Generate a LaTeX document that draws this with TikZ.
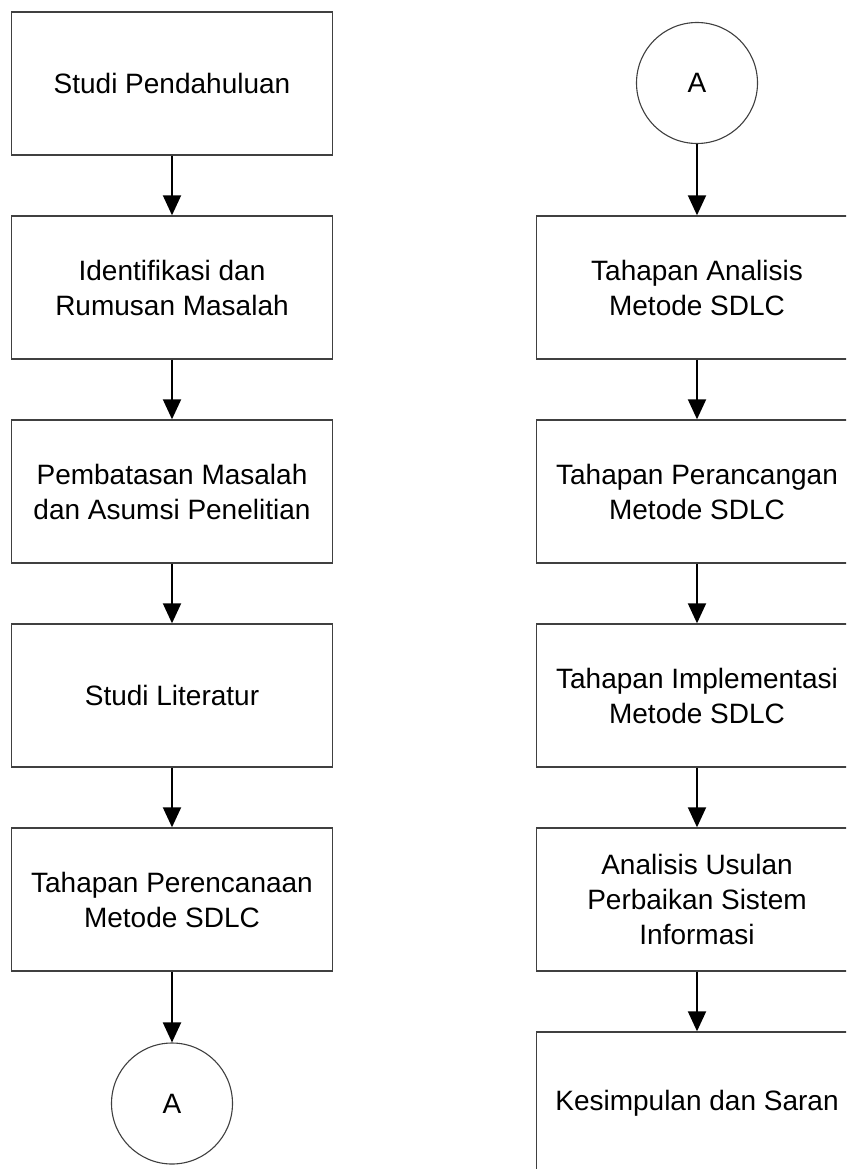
\documentclass[tikz,border=0pt]{standalone}
\usepackage{fontspec}
\setmainfont{Liberation Sans}
\usetikzlibrary{positioning, shapes, arrows.meta, calc}
\definecolor{boxgray}{gray}{0.25}
\tikzstyle{process}=[
  rectangle,
  minimum width=321pt,
  minimum height=143pt,
  inner sep=0pt,
  draw=boxgray,
  line width=1.4pt,
  fill=white,
  align=center,
  font={\fontsize{28}{35}\selectfont}
]
\tikzstyle{offpage}=[
  circle,
  minimum size=121pt,
  inner sep=0pt,
  draw=boxgray,
  line width=1.1pt,
  fill=white,
  font={\fontsize{28}{35}\selectfont}
]
\tikzstyle{flow}=[
  -{Triangle[length=20pt, width=18pt]},
  line width=2pt,
  black
]

\begin{document}
\begin{tikzpicture}

\newcommand\XL{172pt}
\newcommand\XR{697pt}
\newcommand\Y{-204pt}
\newcommand\TOP{-83.5pt}

\useasboundingbox (0pt, 0pt) rectangle (846pt, -1169pt); %% page
\clip (0pt, 0pt) rectangle (846pt, -1169pt);

%% left column
\node[process] (pendahuluan) at (\XL, \TOP) {Studi Pendahuluan};
\node[process] (identifikasi) at (\XL, \TOP + 1*\Y) {Identifikasi dan\\Rumusan Masalah};
\node[process] (pembatasan) at (\XL, \TOP + 2*\Y) {Pembatasan Masalah\\dan Asumsi Penelitian};
\node[process] (literatur) at (\XL, \TOP + 3*\Y) {Studi Literatur};
\node[process] (perencanaan) at (\XL, \TOP + 4*\Y) {Tahapan Perencanaan\\Metode SDLC};
\node[offpage] (keA) at (\XL, \TOP + 5*\Y) {A};

\draw[flow] (pendahuluan) -- (identifikasi);
\draw[flow] (identifikasi) -- (pembatasan);
\draw[flow] (pembatasan) -- (literatur);
\draw[flow] (literatur) -- (perencanaan);
\draw[flow] (perencanaan) -- (keA);

%% right column
\node[offpage] (dariA) at (\XR, -83pt) {A};
\node[process] (analisis) at (\XR, \TOP + 1*\Y) {Tahapan Analisis\\Metode SDLC};
\node[process] (perancangan) at (\XR, \TOP + 2*\Y) {Tahapan Perancangan\\Metode SDLC};
\node[process] (implementasi) at (\XR, \TOP + 3*\Y) {Tahapan Implementasi\\Metode SDLC};
\node[process] (usulan) at (\XR, \TOP + 4*\Y) {Analisis Usulan\\Perbaikan Sistem\\Informasi};
\node[process] (kesimpulan) at (\XR, \TOP + 5*\Y) {Kesimpulan dan Saran};

\draw[flow] (dariA) -- (analisis);
\draw[flow] (analisis) -- (perancangan);
\draw[flow] (perancangan) -- (implementasi);
\draw[flow] (implementasi) -- (usulan);
\draw[flow] (usulan) -- (kesimpulan);

\end{tikzpicture}
\end{document}
